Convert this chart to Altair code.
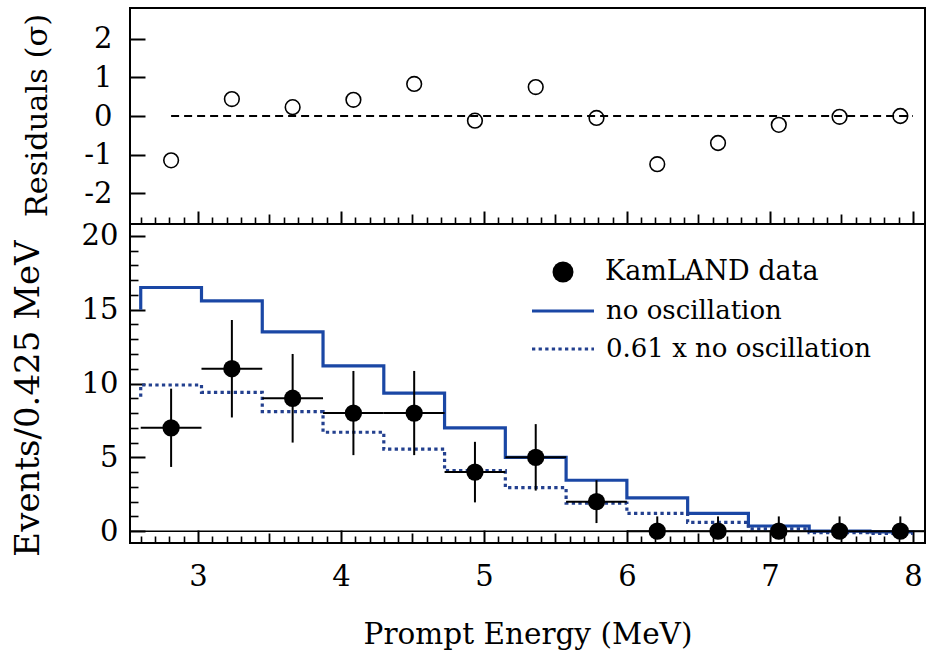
import altair as alt
import pandas as pd

# ---------------- data ----------------
bin_edges = [2.6, 3.025, 3.45, 3.875, 4.3, 4.725, 5.15, 5.575, 6.0, 6.425, 6.85, 7.275, 7.7, 8.0]
bin_centers = [2.8125, 3.2375, 3.6625, 4.0875, 4.5125, 4.9375, 5.3625, 5.7875,
               6.2125, 6.6375, 7.0625, 7.4875, 7.9125]
half_width = 0.2125

residuals = [-1.15, 0.44, 0.23, 0.42, 0.83, -0.12, 0.75, -0.05, -1.25, -0.70, -0.23, -0.02, 0.00]

events = [7, 11, 9, 8, 8, 4, 5, 2, 0, 0, 0, 0, 0]
err_low = [2.65, 3.3, 3.0, 2.85, 2.85, 2.05, 2.25, 1.45, 0, 0, 0, 0, 0]
err_high = [2.65, 3.3, 3.0, 2.85, 2.85, 2.05, 2.25, 1.45, 1.0, 1.0, 1.0, 1.0, 1.0]

no_osc_start = 15.0
no_osc = [16.5, 15.6, 13.5, 11.2, 9.35, 7.0, 5.0, 3.45, 2.25, 1.2, 0.35, 0.0, -0.05]
scaled_start = 9.1
scaled = [9.9, 9.4, 8.1, 6.7, 5.55, 4.1, 2.95, 1.9, 1.2, 0.6, 0.15, -0.1, -0.15]

data_label = "KamLAND data"
line_labels = ["no oscillation", "0.61 x no oscillation"]

x_major = [3, 4, 5, 6, 7, 8]
x_half = [3.5, 4.5, 5.5, 6.5, 7.5]
x_minor = [round(2.6 + 0.1 * i, 1) for i in range(55)]
x_minor = [v for v in x_minor if v not in x_major and v not in x_half]
res_major = [-2, -1, 0, 1, 2]
ev_major = [0, 5, 10, 15, 20]
ev_minor = [v for v in range(0, 21) if v % 5]

x_dom = [2.525, 8.085]
res_dom = [-2.8, 2.8]
ev_dom = [-0.8, 20.8]

W, H_TOP, H_BOT = 795, 216, 319
FONT = "DejaVu Serif"
BLUE1 = "#1a47a5"
BLUE2 = "#23408f"

# ---------------- tables ----------------
res_df = pd.DataFrame({"x": bin_centers, "res": residuals})
zero_df = pd.DataFrame({"x1": [bin_centers[0]], "x2": [bin_edges[-1]], "y": [0]})

ev_df = pd.DataFrame({
    "x": bin_centers,
    "y": events,
    "lo": [e - l for e, l in zip(events, err_low)],
    "hi": [e + h for e, h in zip(events, err_high)],
    "xl": [c - half_width for c in bin_centers],
    "xr": [c + half_width for c in bin_centers],
    "zero": [0] * len(events),
    "label": [data_label] * len(events),
})

rows = []
for name, start, vals in [(line_labels[0], no_osc_start, no_osc),
                          (line_labels[1], scaled_start, scaled)]:
    xs = [bin_edges[0]] + bin_edges
    ys = [start] + vals + [vals[-1]]
    for i, (xv, yv) in enumerate(zip(xs, ys)):
        rows.append({"series": name, "x": xv, "y": yv, "i": i})
line_df = pd.DataFrame(rows)


def sc(dom):
    return alt.Scale(domain=dom, nice=False, zero=False)


def tick_layer(channel, values, length, xdom, ydom, width):
    orient = "bottom" if channel == "x" else "left"
    ax = alt.Axis(orient=orient, offset=-length, tickSize=length, tickWidth=width,
                  tickColor="black", values=values, labels=False, domain=False,
                  grid=False, minExtent=0, title=None)
    if channel == "x":
        df = pd.DataFrame({"v": values, "w": [ydom[0]] * len(values)})
        enc = {"x": alt.X("v:Q", scale=sc(xdom), axis=ax),
               "y": alt.Y("w:Q", scale=sc(ydom), axis=None)}
    else:
        df = pd.DataFrame({"v": values, "w": [xdom[0]] * len(values)})
        enc = {"y": alt.Y("v:Q", scale=sc(ydom), axis=ax),
               "x": alt.X("w:Q", scale=sc(xdom), axis=None)}
    return alt.Chart(df).mark_point(opacity=0, size=1, clip=True).encode(**enc)


neg_expr = "datum.value < 0 ? '-' + abs(datum.value) : '' + datum.value"

# ---------------- top panel (residuals) ----------------
top_y_axis = alt.Axis(orient="left", values=res_major, ticks=False, tickSize=0, domain=False,
                      grid=False, labelFont=FONT, labelFontSize=29, labelPadding=18,
                      labelColor="black", labelExpr=neg_expr, title="Residuals (σ)",
                      titleFont=FONT, titleFontSize=30.5, titleFontWeight="normal",
                      titleX=-93, titleY=107, titleAlign="center", titleBaseline="middle",
                      titleColor="black", minExtent=0)

circles = alt.Chart(res_df).mark_point(shape="circle", filled=False, size=215,
                                        stroke="black", strokeWidth=1.6, opacity=1).encode(
    x=alt.X("x:Q", scale=sc(x_dom), axis=None),
    y=alt.Y("res:Q", scale=sc(res_dom), axis=top_y_axis),
)
dash = alt.Chart(zero_df).mark_rule(color="black", strokeWidth=2, strokeDash=[8, 5]).encode(
    x=alt.X("x1:Q", scale=sc(x_dom), axis=None),
    x2="x2:Q",
    y=alt.Y("y:Q", scale=sc(res_dom), axis=top_y_axis),
)
top_data = alt.layer(dash, circles)

top = alt.layer(
    top_data,
    tick_layer("x", x_major, 13, x_dom, res_dom, 2),
    tick_layer("x", x_half, 10, x_dom, res_dom, 1.8),
    tick_layer("x", x_minor, 7, x_dom, res_dom, 1.6),
    tick_layer("y", res_major, 15, x_dom, res_dom, 2),
).resolve_scale(x="independent", y="independent").properties(width=W, height=H_TOP)

# ---------------- bottom panel (events) ----------------
bot_x_axis = alt.Axis(orient="bottom", values=x_major, ticks=False, tickSize=0, domain=False,
                      grid=False, labelFont=FONT, labelFontSize=29, labelPadding=19,
                      labelColor="black", title="Prompt Energy (MeV)", titleFont=FONT,
                      titleFontSize=29.5, titleFontWeight="normal", titlePadding=29,
                      titleColor="black", minExtent=0)
bot_y_axis = alt.Axis(orient="left", values=ev_major, ticks=False, tickSize=0, domain=False,
                      grid=False, labelFont=FONT, labelFontSize=29, labelPadding=12,
                      labelColor="black", title="Events/0.425 MeV", titleFont=FONT,
                      titleFontSize=34, titleFontWeight="normal",
                      titleX=-102, titleY=174, titleAlign="center", titleBaseline="middle",
                      titleColor="black", minExtent=0)

XB = dict(scale=sc(x_dom), axis=bot_x_axis)
YB = dict(scale=sc(ev_dom), axis=bot_y_axis)

zero_line = alt.Chart(ev_df.head(1)).mark_rule(color="black", strokeWidth=1.5, clip=True).encode(
    x=alt.X("xa:Q", **XB), x2="xb:Q", y=alt.Y("zero:Q", **YB)
).transform_calculate(xa=str(x_dom[0]), xb=str(x_dom[1]))

line_legend_kw = dict(title=None, orient="none", legendX=400, legendY=H_TOP + 72,
                      symbolType="stroke", symbolSize=3844, symbolStrokeWidth=3.2,
                      clipHeight=30, rowPadding=8, labelOffset=10, padding=0,
                      labelFontSize=26, labelFont=FONT, labelColor="black", labelLimit=500)

steps = alt.Chart(line_df).mark_line(interpolate="step-after", strokeWidth=3.2,
                                     clip=True).encode(
    x=alt.X("x:Q", **XB),
    y=alt.Y("y:Q", **YB),
    order=alt.Order("i:Q"),
    color=alt.Color("series:N", scale=alt.Scale(domain=line_labels, range=[BLUE1, BLUE2]),
                    legend=alt.Legend(**line_legend_kw)),
    strokeDash=alt.StrokeDash("series:N",
                              scale=alt.Scale(domain=line_labels, range=[[1, 0], [3.3, 3.3]]),
                              legend=alt.Legend(**line_legend_kw)),
)

vbars = alt.Chart(ev_df).mark_rule(color="black", strokeWidth=2, clip=True).encode(
    x=alt.X("x:Q", **XB), y=alt.Y("lo:Q", **YB), y2="hi:Q")
hbars = alt.Chart(ev_df).mark_rule(color="black", strokeWidth=2, clip=True).encode(
    x=alt.X("xl:Q", **XB), x2="xr:Q", y=alt.Y("y:Q", **YB))

points = alt.Chart(ev_df).mark_point(filled=True, size=300, color="black", opacity=1).encode(
    x=alt.X("x:Q", **XB),
    y=alt.Y("y:Q", **YB),
    shape=alt.Shape("label:N", scale=alt.Scale(domain=[data_label], range=["circle"]),
                    legend=alt.Legend(title=None, orient="none", legendX=419.5,
                                      legendY=H_TOP + 33,
                                      symbolSize=441, symbolFillColor="black",
                                      symbolStrokeColor="black", symbolStrokeWidth=0,
                                      clipHeight=30, labelOffset=28.5, padding=0,
                                      labelFontSize=27, labelFont=FONT, labelColor="black",
                                      labelLimit=500)),
)

bot_data = alt.layer(zero_line, steps, vbars, hbars, points)

bottom = alt.layer(
    bot_data,
    tick_layer("x", x_major, 13, x_dom, ev_dom, 2),
    tick_layer("x", x_half, 10, x_dom, ev_dom, 1.8),
    tick_layer("x", x_minor, 7, x_dom, ev_dom, 1.6),
    tick_layer("y", ev_major, 15, x_dom, ev_dom, 2),
    tick_layer("y", ev_minor, 8, x_dom, ev_dom, 1.6),
).resolve_scale(x="independent", y="independent").properties(width=W, height=H_BOT)

chart = alt.vconcat(top, bottom, spacing=0, bounds="flush").properties(
    padding={"left": 9, "top": 7, "right": 2, "bottom": 0},
    background="white",
).configure(font=FONT).configure_view(stroke="black", strokeWidth=2).configure_axis(
    labelFont=FONT, titleFont=FONT, titleFontWeight="normal"
).configure_legend(labelFont=FONT)

chart.save("out.html", embed_options={"renderer": "svg", "actions": False})
